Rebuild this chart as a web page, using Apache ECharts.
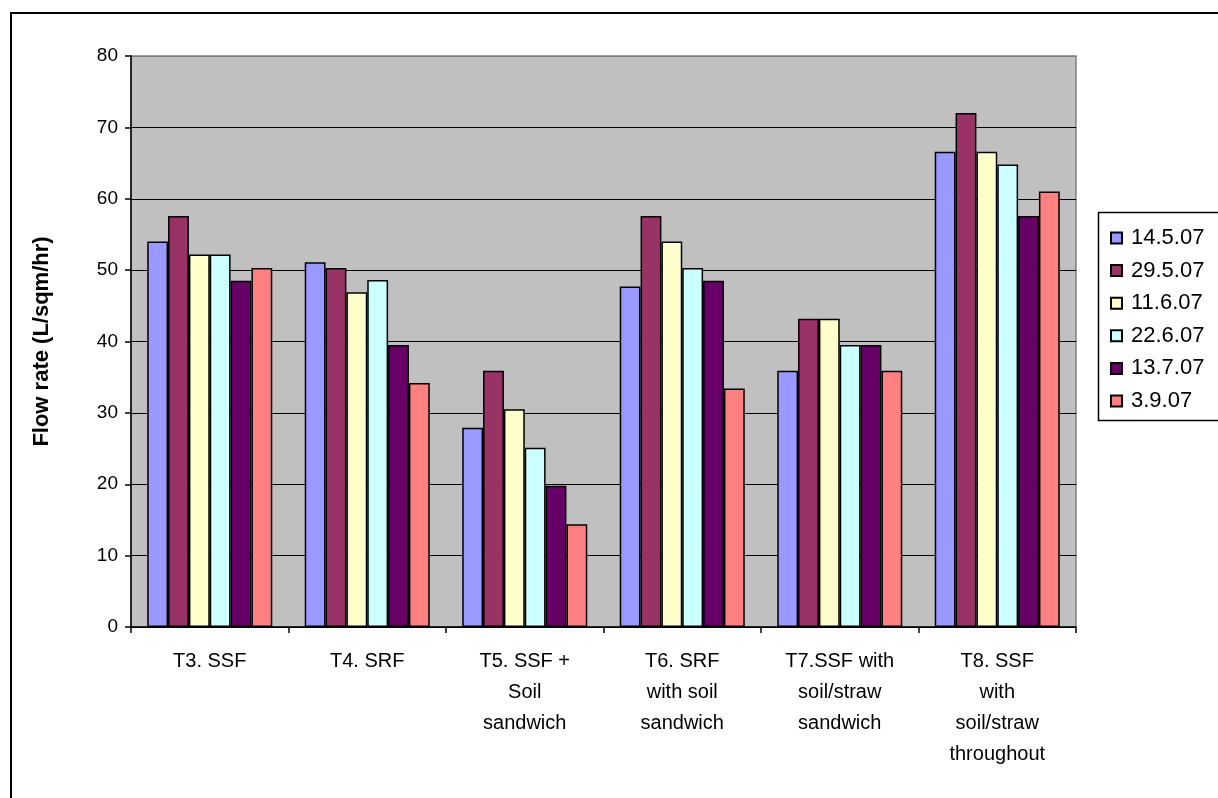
<!DOCTYPE html>
<html>
<head>
<meta charset="utf-8">
<script src="https://cdn.jsdelivr.net/npm/echarts@6/dist/echarts.min.js"></script>
<style>
  html, body { margin: 0; padding: 0; background: #ffffff; }
  #chart { width: 1218px; height: 798px; }
</style>
</head>
<body>
<div id="chart"></div>
<script>
// Treatments (x categories)
const categories = [
  'T3. SSF',
  'T4. SRF',
  'T5. SSF +\nSoil\nsandwich',
  'T6. SRF\nwith soil\nsandwich',
  'T7.SSF with\nsoil/straw\nsandwich',
  'T8. SSF\nwith\nsoil/straw\nthroughout'
];

// Sampling dates (series names)
const dates = ['14.5.07', '29.5.07', '11.6.07', '22.6.07', '13.7.07', '3.9.07'];

// Flow rate (L/sqm/hr) per date, one value per treatment
const d14_5 = [54.0, 51.1, 27.9, 47.7, 35.9, 66.6];
const d29_5 = [57.6, 50.3, 35.9, 57.6, 43.2, 72.0];
const d11_6 = [52.2, 46.9, 30.5, 54.0, 43.2, 66.6];
const d22_6 = [52.2, 48.6, 25.1, 50.3, 39.5, 64.8];
const d13_7 = [48.5, 39.5, 19.8, 48.5, 39.5, 57.6];
const d3_9  = [50.3, 34.2, 14.4, 33.4, 35.9, 61.0];

const yTicks = [0, 10, 20, 30, 40, 50, 60, 70, 80];

const seriesValues = [d14_5, d29_5, d11_6, d22_6, d13_7, d3_9];
const colors = ['#9999FF', '#993366', '#FFFFCC', '#CCFFFF', '#660066', '#FF8080'];

const font = '"Liberation Sans", Arial, sans-serif';

const chart = echarts.init(document.getElementById('chart'), null, { renderer: 'canvas' });

chart.setOption({
  backgroundColor: '#ffffff',
  animation: false,
  textStyle: { fontFamily: font },
  graphic: [
    {
      type: 'rect', z: 0,
      shape: { x: 11, y: 13, width: 1240, height: 820 },
      style: { fill: 'none', stroke: '#000000', lineWidth: 2 }
    },
    {
      type: 'rect', z: 0,
      shape: { x: 1098.5, y: 212.5, width: 140, height: 208 },
      style: { fill: '#ffffff', stroke: '#000000', lineWidth: 1.5 }
    }
  ],
  grid: {
    left: 131, top: 56, right: 142, bottom: 171,
    show: true,
    backgroundColor: '#C0C0C0',
    borderColor: '#808080',
    borderWidth: 1.5
  },
  legend: {
    orient: 'vertical',
    left: 1105,
    top: 222,
    itemWidth: 11,
    itemHeight: 11,
    itemGap: 10.6,
    icon: 'rect',
    data: dates,
    textStyle: { fontFamily: font, fontSize: 22, color: '#000', lineHeight: 22, padding: [0, 0, 0, 4] },
    z: 5
  },
  xAxis: {
    type: 'category',
    data: categories,
    boundaryGap: true,
    axisLine: { show: true, lineStyle: { color: '#000', width: 1.5 } },
    axisTick: { show: true, length: 6, inside: false, lineStyle: { color: '#000', width: 1.5 } },
    axisLabel: {
      interval: 0, margin: 19, color: '#000',
      fontFamily: font, fontSize: 20, lineHeight: 31, align: 'center'
    },
    splitLine: { show: false }
  },
  yAxis: {
    type: 'value',
    min: yTicks[0],
    max: yTicks[yTicks.length - 1],
    interval: 10,
    name: 'Flow rate (L/sqm/hr)',
    nameLocation: 'middle',
    nameGap: 78,
    nameTextStyle: { fontFamily: font, fontSize: 22, fontWeight: 'bold', color: '#000' },
    axisLine: { show: true, lineStyle: { color: '#000', width: 1.5 } },
    axisTick: { show: true, length: 6, inside: false, lineStyle: { color: '#000', width: 1.5 } },
    axisLabel: { margin: 13, color: '#000', fontFamily: font, fontSize: 19 },
    splitLine: {
      show: true,
      lineStyle: {
        color: ['#000', '#000', '#000', '#000', '#000', '#000', '#000', '#000', '#808080'],
        width: 1.2
      }
    }
  },
  series: dates.map((name, i) => ({
    name: name,
    type: 'bar',
    data: seriesValues[i],
    barGap: '0%',
    barCategoryGap: '20.6%',
    itemStyle: { color: colors[i], borderColor: '#000', borderWidth: 1.5 },
    z: 3
  }))
});
</script>
</body>
</html>
